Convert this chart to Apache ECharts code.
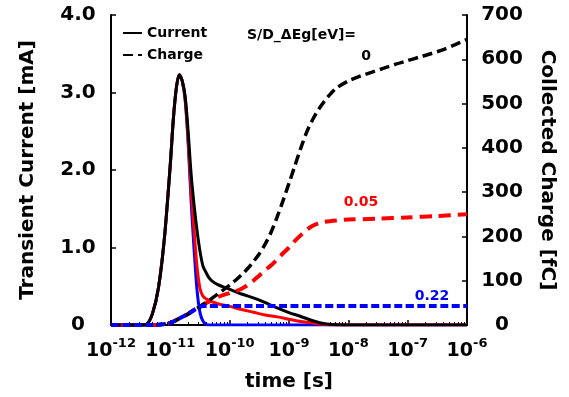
<!DOCTYPE html>
<html>
<head>
<meta charset="utf-8">
<script src="https://cdn.jsdelivr.net/npm/echarts@6/dist/echarts.min.js"></script>
<style>html,body{margin:0;padding:0;background:#fff}#c{width:569px;height:397px}</style>
</head>
<body>
<div id="c"></div>
<script>
// ---- data (time given as log10 exponent) ----
const currentExp = [-12,-11.5,-11.4,-11.3,-11.2,-11.1,-11.0,-10.95,-10.9,-10.85,-10.8,-10.75,-10.7,-10.65,-10.6,-10.55,-10.5,-10.45,-10.4,-10.35,-10.3,-10.2,-10.0,-9.8,-9.6,-9.4,-9.2,-9.0,-8.8,-8.6,-8.4,-8.2,-8.0,-7.0,-6.0];
const currentBlack = [0,0,0.01,0.15,0.48,1.12,2.08,2.65,3.05,3.23,3.15,2.95,2.5,1.95,1.55,1.22,0.95,0.76,0.68,0.61,0.57,0.52,0.46,0.40,0.35,0.29,0.22,0.16,0.11,0.055,0.015,0.002,0,0,0];
const currentRed = [0,0,0.01,0.15,0.48,1.12,2.08,2.65,3.05,3.23,3.15,2.92,2.4,1.75,1.22,0.75,0.47,0.37,0.34,0.32,0.30,0.275,0.24,0.20,0.165,0.13,0.105,0.075,0.045,0.025,0.008,0,0,0,0];
const currentBlue = [0,0,0.01,0.15,0.48,1.12,2.08,2.65,3.05,3.23,3.15,2.9,2.35,1.6,0.98,0.45,0.16,0.05,0.01,0,0,0,0,0,0,0,0,0,0,0,0,0,0,0,0];

const chargeBlackExp = [-12,-11.3,-11.2,-11.1,-11.0,-10.9,-10.8,-10.7,-10.6,-10.5,-10.4,-10.3,-10.2,-10.1,-10.0,-9.9,-9.8,-9.7,-9.6,-9.5,-9.4,-9.3,-9.2,-9.1,-9.0,-8.9,-8.8,-8.7,-8.6,-8.5,-8.4,-8.3,-8.2,-8.0,-7.8,-7.6,-7.4,-7.2,-7.0,-6.8,-6.6,-6.4,-6.2,-6.0];
const chargeBlack = [0,0,0.5,2,5,11,18,25,34,42,51,60,70,80,90,101,113,127,143,161,183,210,244,281,320,360,400,436,464,487,506,522,535,551,562,571,580,589,597,605,613,622,633,645];
const chargeRedExp = [-12,-11.3,-11.2,-11.1,-11.0,-10.9,-10.8,-10.7,-10.6,-10.5,-10.4,-10.3,-10.2,-10.1,-10.0,-9.9,-9.8,-9.7,-9.6,-9.5,-9.4,-9.3,-9.2,-9.1,-9.0,-8.9,-8.8,-8.7,-8.6,-8.5,-8.4,-8.2,-8.0,-7.5,-7.0,-6.5,-6.0];
const chargeRed = [0,0,0.5,2,5,11,18,25,34,42,49,56,63,68,72,76,82,90,100,112,124,135,148,162,175,190,203,215,224,230,233,236,238,240,243,246,250];
const chargeBlueExp = [-12,-11.3,-11.2,-11.1,-11.0,-10.9,-10.8,-10.7,-10.6,-10.5,-10.45,-10.4,-6.0];
const chargeBlue = [0,0,0.5,2,5,11,18,25,34,41,43,43,43];

const FONT = '"DejaVu Sans", sans-serif';
const pairs = (ex, v) => ex.map((e, i) => [Math.pow(10, e), v[i]]);

const minorVals = [];
for (let d = -12; d < -6; d++) for (let k = 2; k <= 9; k++) minorVals.push(k * Math.pow(10, d));

const chart = echarts.init(document.getElementById('c'));
const baseX = {type: 'log', logBase: 10, min: 1e-12, max: 1e-6, splitLine: {show: false}};
const lineBase = {type: 'line', symbol: 'none', showSymbol: false, smooth: 0.3};
chart.setOption({
  backgroundColor: '#fff',
  animation: false,
  grid: {left: 111, right: 102, top: 15, bottom: 70},
  legend: {
    data: [{name: 'Current'}, {name: 'Charge'}], orient: 'vertical', left: 122, top: 26, padding: 0,
    itemWidth: 19, itemHeight: 12, itemGap: 8,
    itemStyle: {opacity: 0},
    textStyle: {fontFamily: FONT, fontWeight: 'bold', fontSize: 14, color: '#000', lineHeight: 14}
  },
  xAxis: [
    Object.assign({}, baseX, {
      position: 'bottom', name: 'time [s]', nameLocation: 'middle', nameGap: 47,
      nameTextStyle: {fontFamily: FONT, fontWeight: 'bold', fontSize: 20, color: '#000'},
      axisLine: {lineStyle: {color: '#000', width: 2}},
      axisTick: {inside: true, length: 5, lineStyle: {color: '#000', width: 1.5}},
      axisLabel: {
        margin: 12, color: '#000',
        formatter: v => '{b|10}{s|' + Math.round(Math.log10(v)) + '}',
        rich: {
          b: {fontFamily: FONT, fontWeight: 'bold', fontSize: 19, lineHeight: 24, verticalAlign: 'bottom', color: '#000'},
          s: {fontFamily: FONT, fontWeight: 'bold', fontSize: 13, lineHeight: 12, verticalAlign: 'top', color: '#000'}
        }
      }
    }),
    Object.assign({}, baseX, {
      position: 'top', axisLine: {lineStyle: {color: '#000', width: 2}},
      axisTick: {show: false}, axisLabel: {show: false}
    }),
    Object.assign({}, baseX, {
      position: 'bottom', axisLine: {show: false},
      axisTick: {inside: true, length: 3, customValues: minorVals, lineStyle: {color: '#000', width: 1}},
      axisLabel: {show: false}
    })
  ],
  yAxis: [
    {
      type: 'value', min: 0, max: 4, interval: 1, position: 'left',
      name: 'Transient Current [mA]', nameLocation: 'middle', nameGap: 73,
      nameTextStyle: {fontFamily: FONT, fontWeight: 'bold', fontSize: 20, color: '#000'},
      axisLine: {show: true, lineStyle: {color: '#000', width: 2}},
      axisTick: {show: true, inside: true, length: 5, lineStyle: {color: '#000', width: 1.5}},
      splitLine: {show: false},
      axisLabel: {
        align: 'center', margin: 33, color: '#000', fontFamily: FONT, fontWeight: 'bold', fontSize: 20,
        formatter: v => (v === 0 ? '0' : v.toFixed(1))
      }
    },
    {
      type: 'value', min: 0, max: 700, interval: 100, position: 'right',
      name: 'Collected Charge [fC]', nameLocation: 'middle', nameGap: 70, nameRotate: -90,
      nameTextStyle: {fontFamily: FONT, fontWeight: 'bold', fontSize: 20, color: '#000'},
      axisLine: {show: true, lineStyle: {color: '#000', width: 2}},
      axisTick: {show: true, inside: true, length: 5, lineStyle: {color: '#000', width: 1.5}},
      splitLine: {show: false},
      axisLabel: {align: 'center', margin: 35, color: '#000', fontFamily: FONT, fontWeight: 'bold', fontSize: 20}
    }
  ],
  series: [
    Object.assign({}, lineBase, {name: 'Current 0.22', yAxisIndex: 0, data: pairs(currentExp, currentBlue),
      lineStyle: {color: '#0000ff', width: 3}, itemStyle: {color: '#0000ff'}, z: 2}),
    Object.assign({}, lineBase, {name: 'Current 0.05', yAxisIndex: 0, data: pairs(currentExp, currentRed),
      lineStyle: {color: '#ff0000', width: 3}, itemStyle: {color: '#ff0000'}, z: 3}),
    Object.assign({}, lineBase, {name: 'Current', yAxisIndex: 0, data: pairs(currentExp, currentBlack),
      lineStyle: {color: '#000', width: 3}, itemStyle: {color: '#000'}, z: 4}),
    Object.assign({}, lineBase, {name: 'Charge 0.05', yAxisIndex: 1, data: pairs(chargeRedExp, chargeRed),
      lineStyle: {color: '#ff0000', width: 4, type: [12, 7]}, itemStyle: {color: '#ff0000'}, z: 5}),
    Object.assign({}, lineBase, {name: 'Charge', yAxisIndex: 1, data: pairs(chargeBlackExp, chargeBlack),
      lineStyle: {color: '#000', width: 3.5, type: [10, 5]}, itemStyle: {color: '#000'}, z: 6}),
    Object.assign({}, lineBase, {name: 'Charge 0.22', yAxisIndex: 1, data: pairs(chargeBlueExp, chargeBlue),
      lineStyle: {color: '#0000ff', width: 4, type: [8, 3.5]}, itemStyle: {color: '#0000ff'}, z: 7})
  ],
  graphic: [
    {type: 'text', x: 247, y: 35, style: {text: 'S/D_ΔEg[eV]=', fill: '#000', font: 'bold 14px ' + FONT, textAlign: 'left', textVerticalAlign: 'middle'}},
    {type: 'text', x: 366, y: 56, style: {text: '0', fill: '#000', font: 'bold 14px ' + FONT, textAlign: 'center', textVerticalAlign: 'middle'}},
    {type: 'text', x: 361, y: 202, style: {text: '0.05', fill: '#ff0000', font: 'bold 14px ' + FONT, textAlign: 'center', textVerticalAlign: 'middle'}},
    {type: 'text', x: 432, y: 296, style: {text: '0.22', fill: '#0000ff', font: 'bold 14px ' + FONT, textAlign: 'center', textVerticalAlign: 'middle'}}
  ]
});
</script>
</body>
</html>
